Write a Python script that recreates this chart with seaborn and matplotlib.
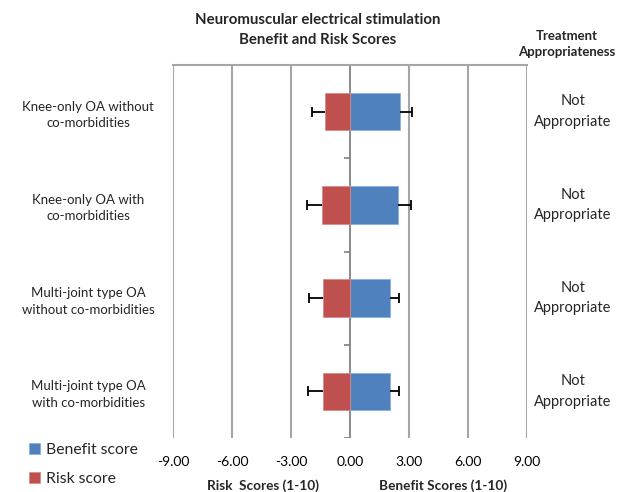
import matplotlib
matplotlib.use("Agg")
import matplotlib.pyplot as plt
import matplotlib.transforms as mtransforms
import seaborn as sns
import pandas as pd
import numpy as np

categories = [
    "Knee-only OA without\nco-morbidities",
    "Knee-only OA with\nco-morbidities",
    "Multi-joint type OA\nwithout co-morbidities",
    "Multi-joint type OA\nwith co-morbidities",
]
benefit = [2.55, 2.43, 2.02, 2.02]
benefit_err = [0.61, 0.67, 0.46, 0.46]
risk = [1.27, 1.43, 1.38, 1.38]
risk_err = [0.67, 0.76, 0.70, 0.75]
appropriateness = ["Not\nAppropriate"] * 4
xticks = [-9, -6, -3, 0, 3, 6, 9]

BLUE = "#4F81BD"
RED = "#C0504D"
GRID = "#A6A6A6"

sns.set_theme(style="white")
plt.rcParams["font.family"] = ["Lato", "DejaVu Sans"]

df = pd.DataFrame({"cat": categories, "benefit": benefit, "risk": [-r for r in risk]})

fig = plt.figure(figsize=(6.3, 4.92), dpi=100)
ax = fig.add_axes([173 / 630, 1 - 438 / 492, 354 / 630, 373 / 492])

# gridlines
for xv in xticks:
    ax.axvline(xv, color=GRID if xv != 0 else "#808080", lw=1.5 if xv != 0 else 1.3, zorder=0)

sns.barplot(data=df, y="cat", x="benefit", color=BLUE, width=0.4, errorbar=None,
            saturation=1, edgecolor="#8AAEDC", linewidth=0.6, label="Benefit score", ax=ax, zorder=2)
sns.barplot(data=df, y="cat", x="risk", color=RED, width=0.4, errorbar=None,
            saturation=1, edgecolor="#D68A88", linewidth=0.6, label="Risk score", ax=ax, zorder=2)
if ax.get_legend() is not None:
    ax.get_legend().remove()
handles, labels = ax.get_legend_handles_labels()

# one-sided error bars with a cap only at the outer end
pos = np.arange(len(categories))
b = np.array(benefit)
be = b + np.array(benefit_err)
r = -np.array(risk)
re = r - np.array(risk_err)
ax.hlines(pos, b, be, color="black", lw=1.3, zorder=3)
ax.hlines(pos, re, r, color="black", lw=1.3, zorder=3)
ax.plot(be, pos, ls="none", marker="|", ms=7, mew=1.3, color="black", zorder=3)
ax.plot(re, pos, ls="none", marker="|", ms=7, mew=1.3, color="black", zorder=3)

# category boundary ticks on zero axis
bounds = np.arange(len(categories)) + 0.5
ax.hlines(bounds, -0.28, 0, color="#808080", lw=1.2, zorder=1)

ax.set_xlim(-9, 9)
ax.set_ylim(len(categories) - 0.5, -0.5)
ax.set_xticks(xticks)
ax.set_xticklabels([f"{v:.2f}" for v in xticks], fontsize=10)
ax.tick_params(axis="x", length=0, pad=13, colors="black")
ax.tick_params(axis="y", length=0, pad=61)
ax.set_yticks(pos)
ax.set_yticklabels(categories, fontsize=9.5, ha="center", multialignment="center",
                   linespacing=1.45)
ax.set_xlabel("")
ax.set_ylabel("")

for s in ["left", "right", "bottom"]:
    ax.spines[s].set_visible(False)
ax.spines["top"].set_color(GRID)
ax.spines["top"].set_linewidth(1.5)

trans = mtransforms.blended_transform_factory(fig.transFigure, ax.transData)
for i, t in enumerate(appropriateness):
    ax.text(573 / 630, i, t, transform=trans, ha="center", va="center", fontsize=10.5,
            linespacing=1.6)

fig.text(318 / 630, 1 - 30 / 492, "Neuromuscular electrical stimulation\nBenefit and Risk Scores",
         ha="center", va="center", fontsize=10.8, fontweight="bold", linespacing=1.5)
fig.text(567 / 630, 1 - 44 / 492, "Treatment\nAppropriateness",
         ha="center", va="center", fontsize=9.5, fontweight="bold", linespacing=1.45)
fig.text(263 / 630, 1 - 486 / 492, "Risk  Scores (1-10)", ha="center", va="center",
         fontsize=9.8, fontweight="bold")
fig.text(443 / 630, 1 - 486 / 492, "Benefit Scores (1-10)", ha="center", va="center",
         fontsize=9.8, fontweight="bold")

fig.legend(handles, labels, loc="upper left", bbox_to_anchor=(23 / 630, 1 - 437 / 492),
           frameon=False, fontsize=11.3, handlelength=0.7, handleheight=0.7,
           handletextpad=0.35, labelspacing=0.95, borderaxespad=0)

fig.savefig("out.png", dpi=100)
